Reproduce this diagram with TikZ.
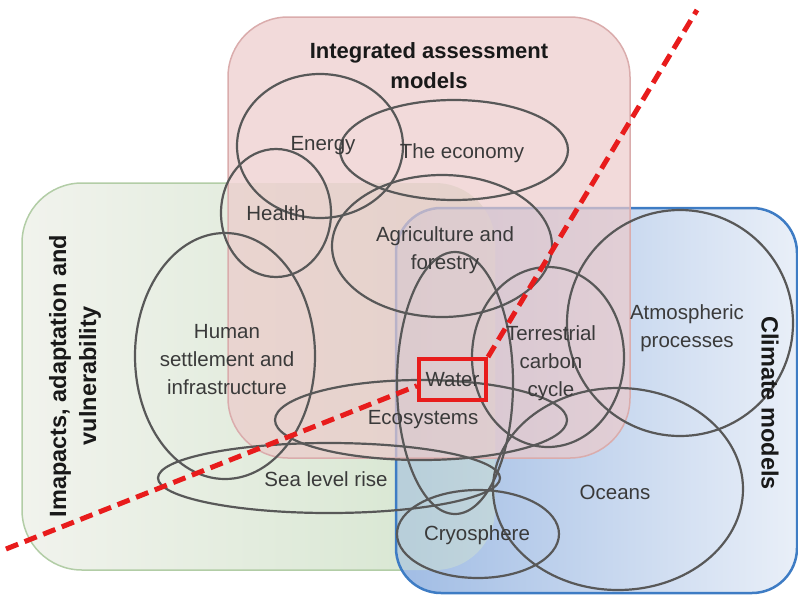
\documentclass[tikz,border=0pt]{standalone}
\usepackage{fontspec}
\setmainfont{Liberation Sans}
\usetikzlibrary{calc}
\definecolor{greenA}{RGB}{241,243,237}
\definecolor{greenB}{RGB}{212,229,206}
\definecolor{greenedge}{RGB}{178,205,166}
\definecolor{blueA}{RGB}{160,188,228}
\definecolor{blueB}{RGB}{233,239,248}
\definecolor{blueedge}{RGB}{62,124,196}
\definecolor{pinkfill}{RGB}{236,202,202}
\definecolor{pinkedge}{RGB}{218,172,172}
\definecolor{ringgray}{RGB}{88,88,88}
\definecolor{labelgray}{RGB}{58,58,58}
\definecolor{redc}{RGB}{232,28,28}
\begin{document}
\begin{tikzpicture}[x=1pt,y=-1pt,
  ring/.style={draw=ringgray, line width=2.2pt},
  lbl/.style={text=labelgray, font=\fontsize{20.5}{28}\selectfont, align=center, inner sep=0pt},
  ttl/.style={text=black!90, font=\bfseries\fontsize{22}{30}\selectfont, align=center, inner sep=0pt},
  sidettl/.style={text=black!90, font=\bfseries\fontsize{23.5}{30}\selectfont, align=center, inner sep=0pt},
  reddash/.style={draw=redc, line width=5pt, dash pattern=on 13pt off 7pt},
  redbox/.style={draw=redc, line width=4pt, minimum width=67pt, minimum height=41pt}
]
\useasboundingbox (0,0) rectangle (798,595);

% --- boxes ---
\shade[left color=greenA, right color=greenB, rounded corners=60pt] (22,183) rectangle (495,570);
\begin{scope}[even odd rule, rounded corners=60pt]
  \clip (-300,-300) rectangle (1100,900) (228,17) rectangle (630,458);
  \draw[greenedge, line width=1.5pt] (22,183) rectangle (495,570);
\end{scope}

\shade[left color=blueA, right color=blueB, rounded corners=45pt] (396,208) rectangle (797,593);
\begin{scope}[rounded corners=45pt]
  \clip (396,208) rectangle (797,593);
  \fill[greenB, fill opacity=0.45, rounded corners=60pt] (22,183) rectangle (495,570);
\end{scope}
\draw[blueedge, line width=2.5pt, rounded corners=45pt] (396,208) rectangle (797,593);

\fill[pinkfill, fill opacity=0.7, rounded corners=60pt] (228,17) rectangle (630,458);
\draw[pinkedge, line width=1.5pt, rounded corners=60pt] (228,17) rectangle (630,458);

% --- rings ---
\draw[ring] (320,146) ellipse [x radius=83pt, y radius=72pt];
\draw[ring] (454,150) ellipse [x radius=114pt, y radius=50pt];
\draw[ring] (276,213) ellipse [x radius=55pt, y radius=64pt];
\draw[ring] (442,246) ellipse [x radius=110pt, y radius=71pt];
\draw[ring] (225,356) ellipse [x radius=90pt, y radius=123pt];
\draw[ring] (455,383) ellipse [x radius=58pt, y radius=131pt];
\draw[ring] (548,357) ellipse [x radius=76pt, y radius=90pt];
\draw[ring] (680,323) ellipse [x radius=113pt, y radius=113pt];
\draw[ring] (421,420) ellipse [x radius=146pt, y radius=40pt];
\draw[ring] (329,478) ellipse [x radius=171pt, y radius=35pt];
\draw[ring] (618,489) ellipse [x radius=125pt, y radius=101pt];
\draw[ring] (478,534) ellipse [x radius=81pt, y radius=44pt];

% --- titles ---
\node[ttl] (iam) at (429,66) {Integrated assessment\\models};
\node[sidettl, rotate=90] (iav) at (75,376) {Imapacts, adaptation and\\vulnerability};
\node[sidettl, rotate=-90] (cm) at (770,403) {Climate models};

% --- labels ---
\node[lbl] (energy) at (323,146) {Energy};
\node[lbl] (economy) at (462,153) {The economy};
\node[lbl] (health) at (276,213) {Health};
\node[lbl] (agri) at (445,250) {Agriculture and\\forestry};
\node[lbl] (human) at (227,360) {Human\\settlement and\\infrastructure};
\node[lbl] (terr) at (551,363) {Terrestrial\\carbon\\cycle};
\node[lbl] (atmo) at (687,328) {Atmospheric\\processes};
\node[lbl] (eco) at (423,420) {Ecosystems};
\node[lbl] (sea) at (326,479) {Sea level rise};
\node[lbl] (oceans) at (615,492) {Oceans};
\node[lbl] (cryo) at (477,535) {Cryosphere};

% --- water box and red line ---
\node[lbl, redbox] (water) at (452.5,379.5) {Water};
\coordinate (rlow) at (6,549);
\coordinate (rhigh) at (697,10);
\draw[reddash] (rlow) -- (water.190);
\draw[reddash] (water.north east) -- (rhigh);
\end{tikzpicture}
\end{document}
